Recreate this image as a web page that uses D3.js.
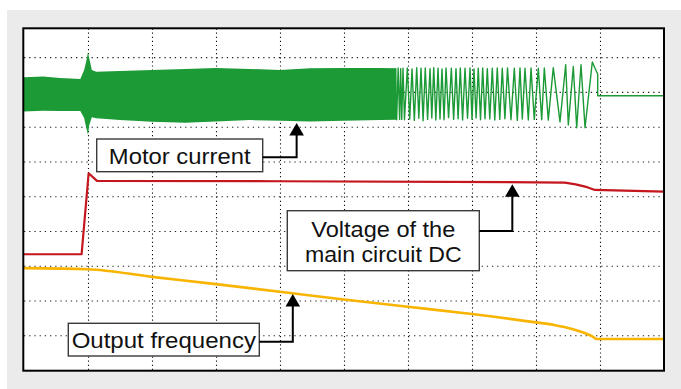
<!DOCTYPE html>
<html><head><meta charset="utf-8">
<script src="https://cdn.jsdelivr.net/npm/d3@7"></script>
<style>
html,body{margin:0;padding:0;background:#fff;}
svg{display:block;font-family:"Liberation Sans",Arial,Helvetica,sans-serif;}
</style>
</head><body>
<svg id="chart" width="681" height="389"></svg>
<script>
// ---- data (screen divisions: time 0..10, level 0..9.8) ----
const gridTimes = [1, 2, 3, 4, 5, 6, 7, 8, 9];
const gridLevels = [1, 2, 3, 4, 5, 6, 7, 8, 9];

// motor current: dense part read as envelope (time, upper, lower)
const envTime  = [0, 0.30, 0.56, 0.88, 0.94, 0.97, 1.00, 1.02, 1.06, 1.13, 1.50, 2.00, 2.52, 3.00, 3.53, 4.00, 4.47, 5.00, 5.56, 5.82];
const envUpper = [8.42, 8.44, 8.40, 8.37, 8.63, 8.86, 9.14, 8.96, 8.63, 8.58, 8.60, 8.63, 8.66, 8.69, 8.66, 8.63, 8.68, 8.69, 8.69, 8.68];
const envLower = [7.44, 7.46, 7.45, 7.45, 7.25, 6.99, 6.76, 7.05, 7.27, 7.24, 7.19, 7.14, 7.11, 7.15, 7.19, 7.17, 7.15, 7.17, 7.19, 7.20];

// motor current: sparse part, individual swings [time, level]
const sweepPoints = [
  [5.800, 8.68], [5.823, 7.20], [5.846, 8.69], [5.869, 7.21], [5.885, 8.67],
  [5.902, 7.21], [5.922, 8.68], [5.945, 7.20], [5.989, 8.69], [6.027, 7.22], [6.063, 8.66], [6.099, 7.18],
  [6.136, 8.70], [6.169, 7.24], [6.203, 8.68], [6.236, 7.17], [6.270, 8.69], [6.306, 7.21],
  [6.344, 8.67], [6.372, 7.25], [6.402, 8.70], [6.435, 7.19], [6.469, 8.68], [6.500, 7.22],
  [6.531, 8.66], [6.563, 7.20], [6.594, 8.69], [6.634, 7.26], [6.677, 8.68], [6.713, 7.21],
  [6.750, 8.67], [6.783, 7.23], [6.817, 8.69], [6.853, 7.19], [6.891, 8.68], [6.930, 7.24],
  [6.969, 8.69], [7.000, 7.21], [7.031, 8.66], [7.064, 7.25], [7.098, 8.68], [7.133, 7.20],
  [7.167, 8.69], [7.203, 7.23], [7.239, 8.67], [7.278, 7.22], [7.317, 8.68], [7.356, 7.19],
  [7.395, 8.69], [7.434, 7.21], [7.473, 8.68], [7.514, 7.23], [7.555, 8.69], [7.609, 7.20],
  [7.661, 8.68], [7.708, 7.18], [7.750, 8.69], [7.786, 7.22], [7.828, 8.68], [7.880, 7.19],
  [7.922, 8.69], [7.973, 7.21], [8.036, 8.68], [8.089, 7.20], [8.130, 8.69], [8.192, 7.19],
  [8.270, 8.70], [8.375, 7.14], [8.464, 8.78], [8.505, 7.05], [8.583, 8.73], [8.636, 6.97],
  [8.703, 8.78], [8.766, 6.97], [8.880, 8.86], [8.964, 8.51], [8.964, 7.89], [10.0, 7.89]
];

// main circuit DC voltage
const dcTime  = [0, 0.90, 1.01, 1.14, 4.00, 8.00, 8.45, 8.62, 8.80, 8.92, 10.0];
const dcLevel = [3.33, 3.33, 5.66, 5.44, 5.43, 5.40, 5.39, 5.34, 5.26, 5.18, 5.13];

// output frequency
const freqTime  = [0, 1.00, 2.00, 3.00, 4.00, 5.00, 6.00, 7.00, 8.00, 8.30, 8.55, 8.75, 8.88, 8.95, 10.0];
const freqLevel = [2.93, 2.90, 2.68, 2.47, 2.25, 2.03, 1.82, 1.61, 1.37, 1.29, 1.19, 1.07, 0.97, 0.89, 0.89];

// annotation texts
const labelMotor = ["Motor current"];
const labelVoltage = ["Voltage of the", "main circuit DC"];
const labelFreq = ["Output frequency"];

// ---- drawing ----
const svg = d3.select("#chart");
const x = d3.scaleLinear().domain([0, 10]).range([24, 664]);
const y = d3.scaleLinear().domain([0, 9.81]).range([370, 29]);

svg.append("rect").attr("x", 7).attr("y", 10).attr("width", 674).attr("height", 379).attr("fill", "#ebebeb");
svg.append("rect").attr("x", 23).attr("y", 28).attr("width", 641).attr("height", 343).attr("fill", "#fff");

// grid
const gx = svg.append("g").attr("transform", `translate(0,${y(0)})`)
  .call(d3.axisBottom(x).tickValues(gridTimes).tickSize(-(y(0) - y(9.81))).tickFormat(""));
gx.select(".domain").remove();
gx.selectAll(".tick line").attr("stroke", "#111").attr("stroke-width", 1.1).attr("stroke-dasharray", "1.2,2.9");

const gy = svg.append("g").attr("transform", `translate(${x(0)},0)`)
  .call(d3.axisLeft(y).tickValues(gridLevels).tickSize(-(x(10) - x(0))).tickFormat(""));
gy.select(".domain").remove();
gy.selectAll(".tick line").attr("stroke", "#222").attr("stroke-width", 1.1).attr("stroke-dasharray", "1.3,3.9");

const green = "#1b9a36";
// dense band
const env = envTime.map((t, i) => ({t, hi: envUpper[i], lo: envLower[i]}));
svg.append("path").datum(env)
  .attr("d", d3.area().x(d => x(d.t)).y0(d => y(d.lo)).y1(d => y(d.hi)))
  .attr("fill", green);
// sparse swings
svg.append("path").datum(sweepPoints)
  .attr("d", d3.line().x(d => x(d[0])).y(d => y(d[1])))
  .attr("fill", "none").attr("stroke", green).attr("stroke-width", 1.4).attr("stroke-linejoin", "round");

// DC voltage
svg.append("path").datum(dcTime.map((t, i) => [t, dcLevel[i]]))
  .attr("d", d3.line().x(d => x(d[0])).y(d => y(d[1])))
  .attr("fill", "none").attr("stroke", "#c4161c").attr("stroke-width", 2.2).attr("stroke-linejoin", "round");

// output frequency
svg.append("path").datum(freqTime.map((t, i) => [t, freqLevel[i]]))
  .attr("d", d3.line().curve(d3.curveMonotoneX).x(d => x(d[0])).y(d => y(d[1])))
  .attr("fill", "none").attr("stroke", "#f8b400").attr("stroke-width", 2.6);

// frame
svg.append("rect").attr("x", 23.3).attr("y", 28.3).attr("width", 640.7).attr("height", 342.4)
  .attr("fill", "none").attr("stroke", "#000").attr("stroke-width", 2);

// annotations
function callout(box, lines, baselines, widths, corner, tip) {
  const g = svg.append("g");
  g.append("rect").attr("x", box[0]).attr("y", box[1]).attr("width", box[2]).attr("height", box[3])
    .attr("fill", "#fff").attr("stroke", "#3a3a3a").attr("stroke-width", 1.4);
  lines.forEach((s, i) => {
    g.append("text").attr("x", box[0] + box[2] / 2).attr("y", baselines[i])
      .attr("text-anchor", "middle").attr("font-size", 22).attr("fill", "#111")
      .attr("textLength", widths[i]).attr("lengthAdjust", "spacingAndGlyphs").text(s);
  });
  const tx = x(tip[0]), ty = tip[1];
  g.append("path").attr("d", `M${box[0] + box[2]},${corner}H${tx}V${ty + 12}`)
    .attr("fill", "none").attr("stroke", "#000").attr("stroke-width", 2);
  g.append("path").attr("d", `M${tx - 7.3},${ty + 12.5}L${tx + 7.3},${ty + 12.5}L${tx},${ty}Z`).attr("fill", "#000");
}
callout([96.7, 139, 166, 32.7], labelMotor, [163.5], [141.7], 157.3, [4.26, 123]);
callout([287.3, 210.7, 192, 60], labelVoltage, [236.7, 261.7], [144, 156.7], 231, [7.63, 184.3]);
callout([68.3, 323.3, 191, 32.7], labelFreq, [348.3], [184.3], 341.7, [4.20, 294]);
</script>
</body></html>
